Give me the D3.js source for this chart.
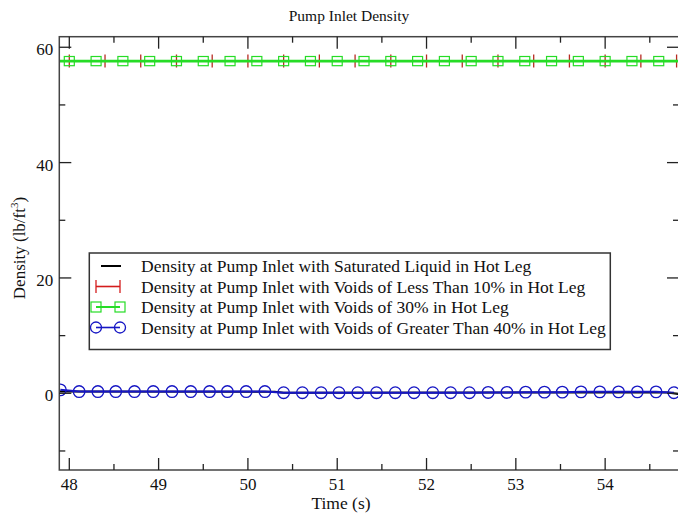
<!DOCTYPE html>
<html><head><meta charset="utf-8">
<script src="https://cdn.jsdelivr.net/npm/d3@7"></script>
<style>body{margin:0;background:#fff}svg{display:block}text{font-family:"Liberation Serif","Times New Roman",serif;fill:#111}</style>
</head><body>
<script>
const title = "Pump Inlet Density";
const xLabel = "Time (s)";
const seriesNames = [
  "Density at Pump Inlet with Saturated Liquid in Hot Leg",
  "Density at Pump Inlet with Voids of Less Than 10% in Hot Leg",
  "Density at Pump Inlet with Voids of 30% in Hot Leg",
  "Density at Pump Inlet with Voids of Greater Than 40% in Hot Leg"
];
const xTicks = [48, 49, 50, 51, 52, 53, 54];
const yTicks = [0, 20, 40, 60];
// black: saturated liquid
const blackT = [47.80, 50.30, 50.40, 54.70, 54.90];
const blackV = [0.3, 0.25, 0.1, 0.15, -0.35];
// red: voids < 10%
const redT = [47.60, 48.00, 48.40, 48.80, 49.20, 49.60, 50.00, 50.40, 50.80, 51.20, 51.60, 52.00, 52.40, 52.80, 53.20, 53.60, 54.00, 54.40, 54.80];
const redV = [57.6, 57.6, 57.6, 57.6, 57.6, 57.6, 57.6, 57.6, 57.6, 57.6, 57.6, 57.6, 57.6, 57.6, 57.6, 57.6, 57.6, 57.6, 57.6];
// green: voids 30%
const greenT = [47.70, 48.00, 48.30, 48.60, 48.90, 49.20, 49.50, 49.80, 50.10, 50.40, 50.70, 51.00, 51.30, 51.60, 51.90, 52.20, 52.50, 52.80, 53.10, 53.40, 53.70, 54.00, 54.30, 54.60, 54.90];
const greenV = [57.6, 57.6, 57.6, 57.6, 57.6, 57.6, 57.6, 57.6, 57.6, 57.6, 57.6, 57.6, 57.6, 57.6, 57.6, 57.6, 57.6, 57.6, 57.6, 57.6, 57.6, 57.6, 57.6, 57.6, 57.6];
// blue: voids > 40%
const blueT = [47.90, 48.11, 48.32, 48.52, 48.73, 48.94, 49.15, 49.36, 49.57, 49.77, 49.98, 50.19, 50.40, 50.61, 50.82, 51.02, 51.23, 51.44, 51.65, 51.86, 52.07, 52.27, 52.48, 52.69, 52.90, 53.11, 53.32, 53.52, 53.73, 53.94, 54.15, 54.36, 54.57, 54.77];
const blueV = [0.6, 0.3, 0.3, 0.3, 0.3, 0.3, 0.3, 0.3, 0.3, 0.3, 0.3, 0.3, 0.1, 0.1, 0.1, 0.1, 0.1, 0.1, 0.1, 0.1, 0.1, 0.1, 0.1, 0.15, 0.15, 0.2, 0.2, 0.2, 0.25, 0.25, 0.25, 0.25, 0.25, 0.1];

const W = 678, H = 514;
const L = 59.3, R = 679, T = 36.7, B = 470;
const svg = d3.select("body").append("svg").attr("width", W).attr("height", H);
const x = d3.scaleLinear().domain([47.888, 54.827]).range([L, R]);
const y = d3.scaleLinear().domain([-13.3, 61.83]).range([B, T]);

const colors = {black: "#000000", red: "#d41c1c", green: "#26dc26", blue: "#1616c4"};

svg.append("defs").append("clipPath").attr("id", "clip")
  .append("rect").attr("x", L).attr("y", T).attr("width", R - L).attr("height", B - T);
const plot = svg.append("g").attr("clip-path", "url(#clip)");
const zip = (t, v) => t.map((d, i) => [d, v[i]]);
const line = d3.line().x(d => x(d[0])).y(d => y(d[1]));

// black
plot.append("path").datum(zip(blackT, blackV)).attr("d", line).attr("fill", "none").attr("stroke", colors.black).attr("stroke-width", 2);
// red
const redD = zip(redT, redV);
plot.append("path").datum(redD).attr("d", line).attr("fill", "none").attr("stroke", colors.red).attr("stroke-width", 2);
plot.selectAll(".rp").data(redD).join("path").attr("d", d => `M${x(d[0])},${y(d[1]) - 6.5}V${y(d[1]) + 6.5}M${x(d[0]) - 6.5},${y(d[1])}H${x(d[0]) + 6.5}`)
  .attr("stroke", "#b82a22").attr("stroke-width", 1.3).attr("fill", "none");
// green
const greenD = zip(greenT, greenV);
plot.append("path").datum(greenD).attr("d", line).attr("fill", "none").attr("stroke", colors.green).attr("stroke-width", 2.8);
plot.selectAll(".gp").data(greenD).join("rect").attr("x", d => x(d[0]) - 5).attr("y", d => y(d[1]) - 4.6).attr("width", 10).attr("height", 9.2)
  .attr("fill", "none").attr("stroke", colors.green).attr("stroke-width", 1.2);
// blue
const blueD = zip(blueT, blueV);
plot.append("path").datum(blueD).attr("d", line).attr("fill", "none").attr("stroke", colors.blue).attr("stroke-width", 2);
plot.selectAll(".bp").data(blueD).join("circle").attr("cx", d => x(d[0])).attr("cy", d => y(d[1])).attr("r", 5.8)
  .attr("fill", "none").attr("stroke", colors.blue).attr("stroke-width", 1.3);

// frame
svg.append("rect").attr("x", L).attr("y", T).attr("width", R - L).attr("height", B - T).attr("fill", "none").attr("stroke", "#444").attr("stroke-width", 1.5);

// ticks (inward)
const xMinor = d3.range(47.5, 55, 0.5).filter(v => v > 47.888 && v < 54.827 && !xTicks.includes(v));
const yMinor = [-10, 10, 30, 50];
const tk = svg.append("g").attr("stroke", "#222").attr("stroke-width", 1.3);
xTicks.forEach(v => { tk.append("line").attr("x1", x(v)).attr("x2", x(v)).attr("y1", B).attr("y2", B - 12);
  tk.append("line").attr("x1", x(v)).attr("x2", x(v)).attr("y1", T).attr("y2", T + 12); });
xMinor.forEach(v => { tk.append("line").attr("x1", x(v)).attr("x2", x(v)).attr("y1", B).attr("y2", B - 6);
  tk.append("line").attr("x1", x(v)).attr("x2", x(v)).attr("y1", T).attr("y2", T + 6); });
yTicks.forEach(v => { tk.append("line").attr("y1", y(v)).attr("y2", y(v)).attr("x1", L).attr("x2", L + 12);
  tk.append("line").attr("y1", y(v)).attr("y2", y(v)).attr("x1", R).attr("x2", R - 12); });
yMinor.forEach(v => { tk.append("line").attr("y1", y(v)).attr("y2", y(v)).attr("x1", L).attr("x2", L + 6);
  tk.append("line").attr("y1", y(v)).attr("y2", y(v)).attr("x1", R).attr("x2", R - 6); });

// tick labels
svg.selectAll(".xl").data(xTicks).join("text").attr("x", d => x(d)).attr("y", B + 20).attr("text-anchor", "middle").attr("font-size", 17).text(d => d);
svg.selectAll(".yl").data(yTicks).join("text").attr("x", L - 6).attr("y", d => y(d) + 8).attr("text-anchor", "end").attr("font-size", 17).text(d => d);

// titles
svg.append("text").attr("x", 349).attr("y", 21).attr("text-anchor", "middle").attr("font-size", 15.5).text(title);
svg.append("text").attr("x", 341).attr("y", 509).attr("text-anchor", "middle").attr("font-size", 17.5).text(xLabel);
const yl = svg.append("text").attr("transform", "translate(25,248) rotate(-90)").attr("text-anchor", "middle").attr("font-size", 17);
yl.append("tspan").text("Density (lb/ft");
yl.append("tspan").attr("font-size", 11).attr("dy", -7).text("3");
yl.append("tspan").attr("dy", 7).text(")");

// legend
const lg = svg.append("g");
lg.append("rect").attr("x", 89.3).attr("y", 253).attr("width", 521).attr("height", 96.5).attr("fill", "#fff").attr("stroke", "#333").attr("stroke-width", 1.5);
const rowsY = [266, 286.5, 307, 327.5];
const keys = ["black", "red", "green", "blue"];
keys.forEach((k, i) => {
  const ry = rowsY[i];
  const g = lg.append("g");
  if (k === "black") {
    g.append("line").attr("x1", 101).attr("x2", 121).attr("y1", ry).attr("y2", ry).attr("stroke", colors.black).attr("stroke-width", 2);
  } else {
    g.append("line").attr("x1", 96).attr("x2", 120).attr("y1", ry).attr("y2", ry).attr("stroke", colors[k]).attr("stroke-width", k === "green" ? 2 : 1.6);
    [96, 120].forEach(cx => {
      if (k === "red") g.append("path").attr("d", `M${cx},${ry - 6.5}V${ry + 6.5}`).attr("stroke", colors.red).attr("stroke-width", 1.3);
      if (k === "green") g.append("rect").attr("x", cx - 5).attr("y", ry - 5).attr("width", 10).attr("height", 10).attr("fill", "none").attr("stroke", colors.green).attr("stroke-width", 1.2);
      if (k === "blue") g.append("circle").attr("cx", cx).attr("cy", ry).attr("r", 5.5).attr("fill", "none").attr("stroke", colors.blue).attr("stroke-width", 1.3);
    });
  }
  g.append("text").attr("x", 141).attr("y", ry + 6).attr("font-size", 17.5).text(seriesNames[i]);
});
</script>
</body></html>
